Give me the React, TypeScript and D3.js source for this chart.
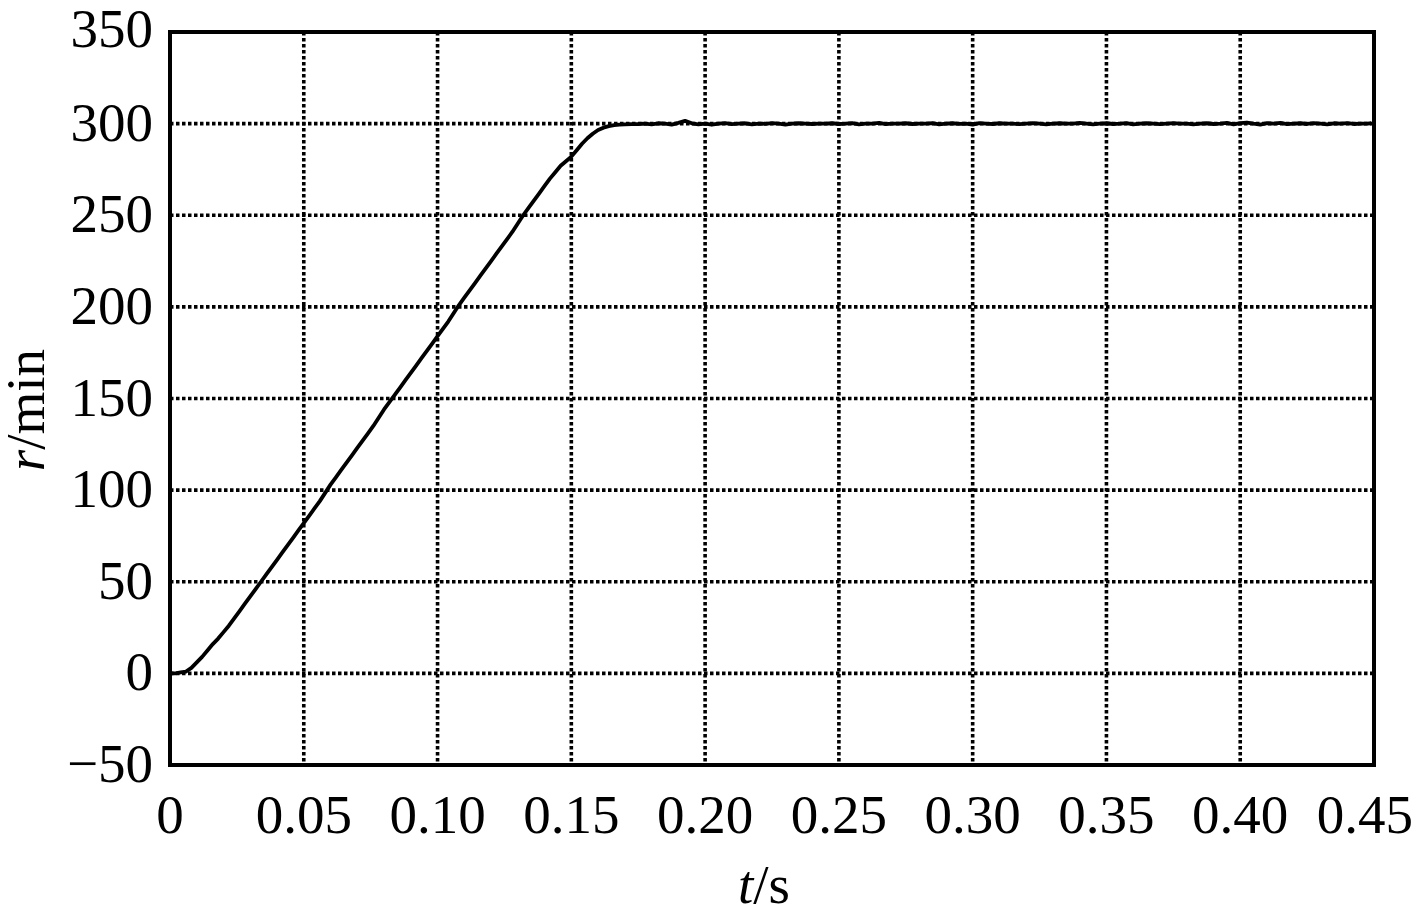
import React from "react";
import * as d3 from "d3";

const timeS: number[] = [
  0, 0.002, 0.004, 0.006, 0.008, 0.010, 0.012, 0.014, 0.016, 0.018,
  0.020, 0.022, 0.024, 0.026, 0.028, 0.030, 0.032, 0.034, 0.036, 0.038,
  0.040, 0.042, 0.044, 0.046, 0.048, 0.050, 0.052, 0.054, 0.056, 0.058,
  0.060, 0.062, 0.064, 0.066, 0.068, 0.070, 0.072, 0.074, 0.076, 0.078,
  0.080, 0.082, 0.084, 0.086, 0.088, 0.090, 0.092, 0.094, 0.096, 0.098,
  0.100, 0.102, 0.104, 0.106, 0.108, 0.110, 0.112, 0.114, 0.116, 0.118,
  0.120, 0.122, 0.124, 0.126, 0.128, 0.130, 0.132, 0.134, 0.136, 0.138,
  0.140, 0.142, 0.144, 0.146, 0.148, 0.150, 0.152, 0.154, 0.156, 0.158,
  0.160, 0.162, 0.164, 0.166, 0.168, 0.170,
  0.1725, 0.175, 0.1775, 0.180, 0.1825, 0.185, 0.1875, 0.190, 0.1925, 0.195,
  0.1975, 0.200, 0.2025, 0.205, 0.2075, 0.210, 0.2125, 0.215, 0.2175, 0.220,
  0.2225, 0.225, 0.2275, 0.230, 0.2325, 0.235, 0.2375, 0.240, 0.2425, 0.245,
  0.2475, 0.250, 0.2525, 0.255, 0.2575, 0.260, 0.2625, 0.265, 0.2675, 0.270,
  0.2725, 0.275, 0.2775, 0.280, 0.2825, 0.285, 0.2875, 0.290, 0.2925, 0.295,
  0.2975, 0.300, 0.3025, 0.305, 0.3075, 0.310, 0.3125, 0.315, 0.3175, 0.320,
  0.3225, 0.325, 0.3275, 0.330, 0.3325, 0.335, 0.3375, 0.340, 0.3425, 0.345,
  0.3475, 0.350, 0.3525, 0.355, 0.3575, 0.360, 0.3625, 0.365, 0.3675, 0.370,
  0.3725, 0.375, 0.3775, 0.380, 0.3825, 0.385, 0.3875, 0.390, 0.3925, 0.395,
  0.3975, 0.400, 0.4025, 0.405, 0.4075, 0.410, 0.4125, 0.415, 0.4175, 0.420,
  0.4225, 0.425, 0.4275, 0.430, 0.4325, 0.435, 0.4375, 0.440, 0.4425, 0.445,
  0.4475, 0.449,
];

const speedRpm: number[] = [
  0, 0, 0.5, 1, 3, 6, 9, 12.5, 16, 19,
  22.5, 26, 30, 34, 38, 42, 46, 50, 54, 58,
  62, 66, 70, 74, 78, 82, 86, 90, 94, 98.5,
  103, 107, 111, 115, 119, 123, 127, 131, 135, 139.5,
  144, 148, 152, 156, 160, 164, 168, 172, 176, 180,
  184, 188, 192, 196.5, 201, 205, 209, 213, 217, 221,
  225, 229, 233, 237, 241, 245.5, 250, 254, 258, 262,
  266, 270, 273.5, 277, 279.5, 282, 285.5, 289, 292, 294.5,
  296.5, 297.8, 298.6, 299.2, 299.5, 299.6,
  299.7, 299.8, 300, 299.6, 300.2, 300, 299.5, 300.4, 301.5, 300.2,
  299.6, 300, 299.4, 300, 300.3, 299.7, 300, 300.2, 299.6, 300,
  299.9, 300.3, 300, 299.5, 300, 300.2, 300, 299.8, 300, 300,
  300.2, 299.8, 300, 300.3, 299.6, 300, 300, 300.4, 299.7, 300,
  300, 300.2, 299.8, 300, 300, 300.3, 299.6, 300, 300.2, 299.9,
  300, 299.5, 300.3, 300, 299.8, 300.2, 300, 300, 299.7, 300,
  300.3, 300, 299.6, 300, 300.2, 300, 300, 300.4, 300, 299.6,
  300, 300.2, 299.8, 300, 300.3, 299.6, 300, 300.2, 300, 299.7,
  300, 300.3, 300, 300, 299.6, 300, 300.2, 299.8, 300, 300.4,
  299.6, 300.3, 300.6, 300, 299.5, 300.3, 300, 300.4, 299.7, 300,
  300.2, 299.8, 300.3, 300, 299.6, 300.2, 300, 300.3, 299.8, 300,
  300, 300.2,
];

const xTicks: number[] = [0, 0.05, 0.1, 0.15, 0.2, 0.25, 0.3, 0.35, 0.4, 0.45];
const xTickLabels: string[] = ["0", "0.05", "0.10", "0.15", "0.20", "0.25", "0.30", "0.35", "0.40", "0.45"];
const yTicks: number[] = [-50, 0, 50, 100, 150, 200, 250, 300, 350];
const yTickLabels: string[] = ["\u221250", "0", "50", "100", "150", "200", "250", "300", "350"];

const W = 1417;
const H = 914;
const left = 170;
const right = 1374;
const top = 32;
const bottom = 765;
const FONT = "'Liberation Serif', 'Times New Roman', serif";
const FS = 55;

export default function App() {
  const x = d3.scaleLinear().domain([0, 0.45]).range([left, right]);
  const y = d3.scaleLinear().domain([-50, 350]).range([bottom, top]);
  const pts: [number, number][] = timeS.map((t, i) => [t, speedRpm[i]]);
  const line = d3
    .line<[number, number]>()
    .x((d) => x(d[0]))
    .y((d) => y(d[1]));

  return (
    <svg
      width={W}
      height={H}
      style={{ position: "absolute", left: 0, top: 0, background: "#fff" }}
      fontFamily={FONT}
    >
      <rect x={0} y={0} width={W} height={H} fill="#fff" />
      {/* grid */}
      {xTicks.slice(1, -1).map((t) => (
        <line
          key={"gx" + t}
          x1={x(t)}
          x2={x(t)}
          y1={top}
          y2={bottom}
          stroke="#000"
          strokeWidth={3.6}
          strokeDasharray="3.5 2.5"
        />
      ))}
      {yTicks.slice(1, -1).map((v) => (
        <line
          key={"gy" + v}
          x1={left}
          x2={right}
          y1={y(v)}
          y2={y(v)}
          stroke="#000"
          strokeWidth={3.6}
          strokeDasharray="3.5 2.5"
        />
      ))}
      {/* data */}
      <path d={line(pts) ?? ""} fill="none" stroke="#000" strokeWidth={3.8} strokeLinejoin="round" />
      {/* frame */}
      <rect x={left} y={top} width={right - left} height={bottom - top} fill="none" stroke="#000" strokeWidth={4} />
      {/* y tick labels */}
      {yTicks.map((v, i) => (
        <text
          key={"yl" + v}
          x={153}
          y={y(v) + (i === yTicks.length - 1 ? 15 : 17)}
          textAnchor="end"
          fontSize={FS}
          fill="#000"
        >
          {yTickLabels[i]}
        </text>
      ))}
      {/* x tick labels */}
      {xTicks.map((t, i) => (
        <text
          key={"xl" + t}
          x={i === xTicks.length - 1 ? 1413 : x(t)}
          y={833}
          textAnchor={i === xTicks.length - 1 ? "end" : "middle"}
          fontSize={FS}
          fill="#000"
        >
          {xTickLabels[i]}
        </text>
      ))}
      {/* axis titles */}
      <text x={764} y={903} textAnchor="middle" fontSize={FS} fill="#000">
        <tspan fontStyle="italic">t</tspan>/s
      </text>
      <text
        transform={`translate(44, 410) rotate(-90)`}
        textAnchor="middle"
        fontSize={FS}
        fill="#000"
      >
        <tspan fontStyle="italic">r</tspan>/min
      </text>
    </svg>
  );
}
